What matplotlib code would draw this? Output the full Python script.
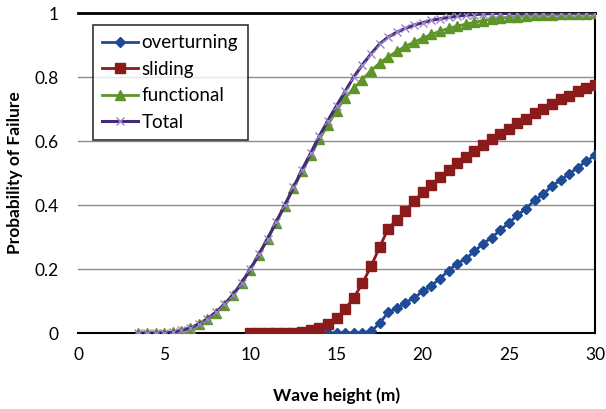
import numpy as np
import matplotlib
matplotlib.use("Agg")
import matplotlib.pyplot as plt

plt.rcParams['font.family'] = ['Lato', 'DejaVu Sans']

# ---- data ----
x_over = [13.0, 13.5, 14.0, 14.5, 15.0, 15.5, 16.0, 16.5, 17.0, 17.5, 18.0, 18.5, 19.0, 19.5,
          20.0, 20.5, 21.0, 21.5, 22.0, 22.5, 23.0, 23.5, 24.0, 24.5, 25.0, 25.5, 26.0, 26.5,
          27.0, 27.5, 28.0, 28.5, 29.0, 29.5, 30.0]
overturning = [0, 0, 0, 0, 0, 0, 0, 0, 0.005, 0.03, 0.065, 0.077, 0.095, 0.11,
               0.13, 0.148, 0.17, 0.195, 0.217, 0.232, 0.255, 0.279, 0.298, 0.321, 0.344, 0.368,
               0.389, 0.415, 0.433, 0.46, 0.477, 0.497, 0.517, 0.537, 0.555]

x_slide = [10.0, 10.5, 11.0, 11.5, 12.0, 12.5, 13.0, 13.5, 14.0, 14.5, 15.0, 15.5, 16.0, 16.5,
           17.0, 17.5, 18.0, 18.5, 19.0, 19.5, 20.0, 20.5, 21.0, 21.5, 22.0, 22.5, 23.0, 23.5,
           24.0, 24.5, 25.0, 25.5, 26.0, 26.5, 27.0, 27.5, 28.0, 28.5, 29.0, 29.5, 30.0]
sliding = [0, 0, 0, 0, 0, 0.001, 0.004, 0.008, 0.016, 0.028, 0.046, 0.075, 0.11, 0.155,
           0.208, 0.268, 0.326, 0.354, 0.38, 0.412, 0.44, 0.462, 0.488, 0.509, 0.53, 0.55,
           0.569, 0.587, 0.605, 0.621, 0.639, 0.655, 0.67, 0.686, 0.70, 0.715, 0.73, 0.741,
           0.756, 0.767, 0.775]

x_func = [3.5, 4.0, 4.5, 5.0, 5.5, 6.0, 6.5, 7.0, 7.5, 8.0, 8.5, 9.0, 9.5, 10.0, 10.5, 11.0,
          11.5, 12.0, 12.5, 13.0, 13.5, 14.0, 14.5, 15.0, 15.5, 16.0, 16.5, 17.0, 17.5, 18.0,
          18.5, 19.0, 19.5, 20.0, 20.5, 21.0, 21.5, 22.0, 22.5, 23.0, 23.5, 24.0, 24.5, 25.0,
          25.5, 26.0, 26.5, 27.0, 27.5, 28.0, 28.5, 29.0, 29.5, 30.0]
functional = [0, 0, 0, 0.001, 0.003, 0.007, 0.015, 0.027, 0.043, 0.064, 0.089, 0.119, 0.156,
              0.198, 0.244, 0.293, 0.345, 0.398, 0.452, 0.505, 0.555, 0.605, 0.65, 0.695,
              0.735, 0.765, 0.792, 0.82, 0.843, 0.863, 0.88, 0.896, 0.909, 0.921, 0.933,
              0.943, 0.952, 0.959, 0.965, 0.971, 0.976, 0.98, 0.984, 0.987, 0.989, 0.991,
              0.993, 0.994, 0.995, 0.996, 0.997, 0.998, 0.998, 0.999]

x_total = x_func
total = [0, 0, 0, 0.001, 0.003, 0.008, 0.016, 0.028, 0.044, 0.065, 0.09, 0.12, 0.157, 0.2,
         0.246, 0.295, 0.347, 0.4, 0.455, 0.51, 0.562, 0.615, 0.664, 0.71, 0.755, 0.80,
         0.838, 0.872, 0.903, 0.925, 0.94, 0.952, 0.962, 0.97, 0.977, 0.982, 0.986, 0.99,
         0.993, 0.995, 0.997, 0.998, 0.999, 0.999, 1.0, 1.0, 1.0, 1.0, 1.0, 1.0, 1.0, 1.0,
         1.0, 1.0]

x_ticks = [0, 5, 10, 15, 20, 25, 30]
y_ticks = [0, 0.2, 0.4, 0.6, 0.8, 1]
y_tick_labels = ['0', '0.2', '0.4', '0.6', '0.8', '1']

# ---- figure ----
fig = plt.figure(figsize=(6.06, 4.09), dpi=100)
ax = fig.add_axes([78 / 606, 1 - 333 / 409, (595 - 78) / 606, (333 - 13) / 409])

c_over = '#1f4a96'
c_slide = '#8b1a1a'
c_func = '#5e9428'
c_tot_line = '#46297a'
c_tot_mark = '#9b86c9'

ax.plot(x_over, overturning, color=c_over, lw=2, marker='D', ms=5,
        mfc=c_over, mec=c_over, label='overturning', zorder=3)
ax.plot(x_slide, sliding, color=c_slide, lw=2, marker='s', ms=7.5,
        mfc=c_slide, mec=c_slide, label='sliding', zorder=4)
ax.plot(x_func, functional, color=c_func, lw=2, marker='^', ms=6.5,
        mfc=c_func, mec=c_func, label='functional', zorder=5)
ax.plot(x_total, total, color=c_tot_line, lw=2.2, marker='x', ms=6, mew=1,
        mec=c_tot_mark, label='Total', zorder=6)

ax.set_xlim(0, 30)
ax.set_ylim(0, 1)
ax.set_xticks(x_ticks)
ax.set_yticks(y_ticks)
ax.set_yticklabels(y_tick_labels)
ax.tick_params(length=0, labelsize=12.5, pad=14)
ax.tick_params(axis='x', pad=10)

ax.grid(axis='y', color='#8c8c8c', lw=1)
ax.set_axisbelow(True)

for s in ['top', 'right', 'bottom']:
    ax.spines[s].set_color('black')
ax.spines['top'].set_linewidth(2)
ax.spines['right'].set_linewidth(1.5)
ax.spines['bottom'].set_linewidth(1.5)
ax.spines['left'].set_visible(False)

ax.set_xlabel('Wave height (m)', fontsize=12.5, fontweight='bold', labelpad=18)
ax.set_ylabel('Probability of Failure', fontsize=12.5, fontweight='bold', labelpad=8)

leg = ax.legend(loc='upper left', bbox_to_anchor=(15 / 517, 1 - 12 / 320),
                fontsize=13.5, frameon=True, fancybox=False, handlelength=1.9,
                handletextpad=0.2, borderpad=0.5, labelspacing=0.5, borderaxespad=0)
leg.get_frame().set_edgecolor('black')
leg.get_frame().set_linewidth(1.2)

fig.savefig('out.png', dpi=100)
